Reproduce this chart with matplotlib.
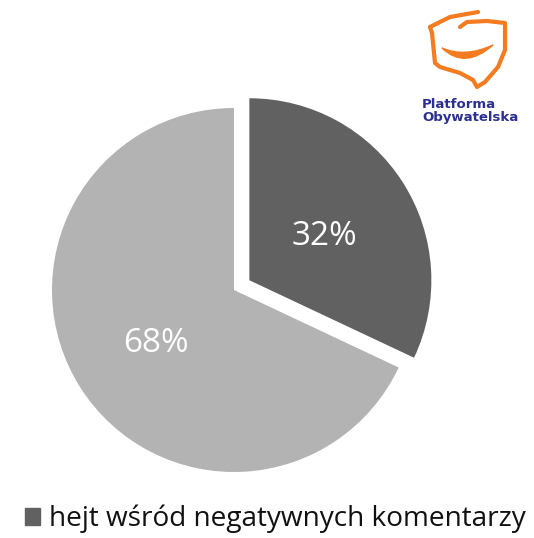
import matplotlib
matplotlib.use("Agg")
import numpy as np
import matplotlib.pyplot as plt
from matplotlib.patches import Patch, PathPatch
from matplotlib.path import Path

# data
shares = [32, 68]
labels = ["hejt wśród negatywnych komentarzy", "pozostałe"]
colors = ["#616161", "#b3b3b3"]
explode = [0.1, 0]

W, H = 534, 538
cx, cy, r = 234, 290, 182

fig = plt.figure(figsize=(W / 100, H / 100), dpi=100)
ax = fig.add_axes([0, 0, 1, 1])

wedges, texts, autotexts = ax.pie(shares, colors=colors, explode=explode,
                                  startangle=90, counterclock=False,
                                  autopct='%d%%',
                                  textprops={'color': 'white', 'fontsize': 24,
                                             'family': 'Open Sans'})
# percent labels sit at slightly different radii in the original
label_r = [0.49, 0.51]
for w, t, d in zip(wedges, autotexts, label_r):
    mid = np.deg2rad((w.theta1 + w.theta2) / 2)
    x0, y0 = w.center
    t.set_position((x0 + d * np.cos(mid), y0 + d * np.sin(mid) - 0.022))

ax.set_xlim(-cx / r, (W - cx) / r)
ax.set_ylim((cy - H) / r, cy / r)
ax.set_aspect('auto')
ax.axis('off')

# legend only shows the first slice
leg = ax.legend(handles=[Patch(color=colors[0])], labels=[labels[0]],
                loc='center', bbox_to_anchor=(275 / W, 1 - 519 / H),
                frameon=False, handlelength=0.55, handleheight=0.55,
                handletextpad=0.3, prop={'family': 'Open Sans', 'size': 20.2})
for t in leg.get_texts():
    t.set_color('#111111')

# party logo, top right
orange = '#f47b20'
lax = fig.add_axes([420 / W, 1 - 130 / H, 110 / W, 130 / H])
lax.set_xlim(0, 110)
lax.set_ylim(130, 0)
lax.axis('off')
lax.plot([10, 30, 58], [27, 17, 12], color=orange, linewidth=3,
         solid_capstyle='round')
shield_x = [40, 47, 67, 85, 85, 78, 65, 57, 53, 40, 20, 15, 12, 10]
shield_y = [27, 22, 21, 23, 50, 67, 82, 87, 80, 73, 67, 63, 33, 27]
lax.plot(shield_x, shield_y, color=orange, linewidth=3,
         solid_joinstyle='round', solid_capstyle='round')
smile = Path([(22, 48), (45, 58), (73, 45), (45, 70), (22, 48)],
             [Path.MOVETO, Path.CURVE3, Path.CURVE3, Path.CURVE3, Path.CURVE3])
lax.add_patch(PathPatch(smile, facecolor=orange, edgecolor=orange, linewidth=1))
lax.text(2, 105, "Platforma", color='#2b2f8f', fontsize=9.5, fontweight='bold',
         va='center', ha='left')
lax.text(2, 118, "Obywatelska", color='#2b2f8f', fontsize=9.5, fontweight='bold',
         va='center', ha='left')

fig.savefig("out.png", dpi=100)
